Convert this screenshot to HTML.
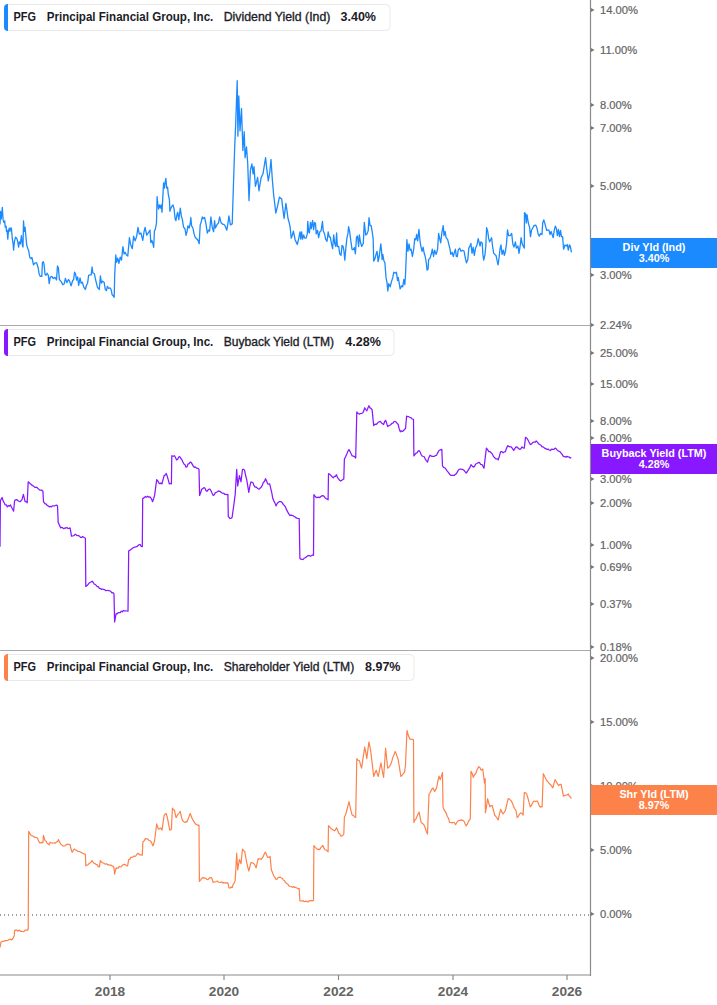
<!DOCTYPE html><html><head><meta charset="utf-8"><style>html,body{margin:0;padding:0;background:#fff;overflow:hidden}svg{display:block}</style></head><body><svg width="717" height="1005" viewBox="0 0 717 1005" font-family="Liberation Sans, sans-serif">
<rect width="717" height="1005" fill="#fff"/>
<line x1="0" y1="325.5" x2="590" y2="325.5" stroke="#aaa" stroke-width="1"/>
<line x1="0" y1="650.5" x2="590" y2="650.5" stroke="#aaa" stroke-width="1"/>
<line x1="0" y1="915" x2="590" y2="915" stroke="#808080" stroke-width="1.6" stroke-dasharray="1,3"/>
<line x1="590.5" y1="0" x2="590.5" y2="976" stroke="#8a8a8a" stroke-width="1.2"/>
<line x1="0" y1="975" x2="591" y2="975" stroke="#8a8a8a" stroke-width="1.2"/>
<line x1="110" y1="975" x2="110" y2="980" stroke="#8a8a8a" stroke-width="1.2"/>
<text x="94.8" y="996" font-size="13" font-weight="bold" fill="#646464" textLength="30.4" lengthAdjust="spacingAndGlyphs">2018</text>
<line x1="224" y1="975" x2="224" y2="980" stroke="#8a8a8a" stroke-width="1.2"/>
<text x="208.8" y="996" font-size="13" font-weight="bold" fill="#646464" textLength="30.4" lengthAdjust="spacingAndGlyphs">2020</text>
<line x1="338.5" y1="975" x2="338.5" y2="980" stroke="#8a8a8a" stroke-width="1.2"/>
<text x="323.3" y="996" font-size="13" font-weight="bold" fill="#646464" textLength="30.4" lengthAdjust="spacingAndGlyphs">2022</text>
<line x1="453" y1="975" x2="453" y2="980" stroke="#8a8a8a" stroke-width="1.2"/>
<text x="437.8" y="996" font-size="13" font-weight="bold" fill="#646464" textLength="30.4" lengthAdjust="spacingAndGlyphs">2024</text>
<line x1="567" y1="975" x2="567" y2="980" stroke="#8a8a8a" stroke-width="1.2"/>
<text x="551.8" y="996" font-size="13" font-weight="bold" fill="#646464" textLength="30.4" lengthAdjust="spacingAndGlyphs">2026</text>
<path d="M0.0,224.6 L0.5,211.5 L1.3,218.8 L2.3,207.3 L3.1,219.9 L4.0,222.5 L4.7,220.9 L5.2,227.2 L6.1,226.2 L6.5,231.4 L7.1,230.3 L7.8,239.2 L8.4,231.4 L9.2,228.2 L9.9,231.4 L11.0,227.7 L11.5,229.3 L12.3,238.7 L13.1,243.9 L13.6,250.2 L14.4,241.8 L15.5,237.1 L16.7,238.2 L17.8,241.8 L18.6,247.1 L19.4,241.8 L20.4,243.9 L21.4,235.6 L22.5,246.0 L23.0,247.1 L23.5,220.9 L24.3,231.4 L25.1,227.2 L25.9,236.6 L26.7,245.0 L27.7,248.1 L28.8,251.3 L29.8,257.5 L30.9,258.6 L31.9,257.5 L33.5,264.9 L35.0,262.8 L36.6,262.8 L38.2,268.0 L39.2,274.3 L40.3,276.4 L41.8,276.4 L42.4,262.8 L43.4,261.7 L44.1,264.9 L45.0,274.3 L46.0,275.3 L47.1,273.2 L48.3,275.3 L49.2,283.7 L50.2,277.4 L51.8,276.4 L53.3,278.5 L54.9,277.4 L56.5,280.0 L57.5,265.9 L58.4,268.0 L59.4,279.5 L61.2,281.6 L62.8,284.7 L64.3,283.7 L65.4,278.5 L66.9,282.6 L68.5,279.5 L69.6,281.1 L71.1,285.8 L72.7,280.5 L73.7,279.5 L74.5,272.2 L75.5,273.8 L76.6,280.1 L77.6,276.9 L78.7,285.3 L80.0,278.0 L81.1,283.2 L82.3,282.2 L83.9,287.4 L85.3,289.5 L86.5,285.3 L87.6,283.2 L88.6,275.4 L89.9,274.9 L91.2,274.9 L92.1,267.0 L92.8,272.8 L94.4,273.8 L95.9,281.1 L97.5,287.4 L99.3,289.5 L100.4,275.9 L101.4,283.2 L102.4,281.1 L104.1,282.2 L105.3,289.5 L106.4,290.5 L107.4,286.4 L108.7,288.5 L110.0,287.9 L111.1,289.5 L112.1,294.7 L113.2,295.8 L114.2,297.3 L114.7,274.9 L115.8,255.0 L116.6,262.3 L117.7,258.1 L118.9,263.3 L120.2,257.1 L121.5,260.2 L122.9,246.6 L124.0,253.9 L125.2,252.4 L126.5,255.0 L127.8,256.0 L129.4,237.7 L130.6,244.5 L132.3,248.7 L133.6,236.2 L135.1,240.9 L136.7,236.2 L138.0,227.3 L139.3,234.1 L140.9,233.0 L142.8,240.3 L144.0,232.0 L145.1,227.3 L146.7,235.1 L148.2,233.0 L150.0,230.1 L150.8,242.6 L151.9,240.5 L152.9,243.7 L153.7,247.3 L154.4,231.1 L155.4,229.0 L156.5,222.8 L157.1,196.6 L157.8,203.9 L158.6,209.2 L159.6,205.0 L160.5,208.1 L161.3,205.0 L162.0,212.3 L162.8,197.7 L163.6,183.0 L164.4,188.2 L165.2,182.0 L165.9,178.3 L166.7,188.2 L167.6,187.2 L168.3,194.5 L169.4,199.7 L169.9,211.3 L170.9,208.1 L172.0,206.0 L173.0,205.0 L174.1,209.2 L175.1,218.6 L175.9,220.7 L177.0,214.4 L177.7,212.3 L178.8,219.6 L180.3,208.1 L181.4,216.5 L182.4,219.6 L183.5,226.9 L185.0,229.0 L186.1,235.3 L187.1,231.1 L187.9,225.9 L189.2,228.0 L190.3,222.8 L190.8,217.5 L191.6,225.9 L192.9,228.0 L193.9,233.2 L195.2,237.4 L196.5,238.5 L198.1,240.5 L199.2,243.7 L200.2,224.9 L201.3,221.7 L202.3,217.0 L203.3,218.6 L204.6,217.5 L206.0,223.8 L207.3,233.2 L208.6,230.1 L209.6,231.1 L210.9,217.0 L212.2,226.9 L213.6,231.7 L214.6,220.7 L215.4,228.0 L216.9,224.9 L218.5,222.8 L219.6,217.0 L221.1,222.8 L222.7,224.3 L223.9,224.4 L225.0,225.7 L226.8,230.2 L227.9,223.6 L228.9,215.9 L230.4,224.8 L232.2,223.9 L233.4,186.3 L234.7,147.0 L235.7,123.7 L237.2,80.7 L237.9,136.2 L238.8,96.0 L240.0,130.9 L241.5,108.5 L242.9,150.5 L244.2,131.7 L245.1,157.7 L246.5,147.0 L247.7,163.1 L249.0,200.6 L250.4,170.2 L251.9,164.0 L253.1,173.8 L254.0,166.6 L255.4,186.3 L256.5,182.3 L257.6,177.4 L259.0,190.8 L260.1,183.7 L261.2,177.4 L263.0,173.8 L264.3,165.7 L265.6,157.7 L266.9,170.2 L268.3,181.0 L269.8,172.0 L271.0,159.5 L272.3,179.2 L273.7,195.3 L274.8,204.1 L275.8,213.2 L277.6,206.0 L279.4,197.1 L280.6,198.2 L281.7,198.9 L282.9,209.2 L284.1,218.5 L285.9,203.3 L286.9,210.2 L288.0,218.5 L289.1,222.2 L290.2,227.5 L291.2,238.2 L292.3,235.3 L293.4,231.1 L295.2,240.0 L296.2,242.1 L297.3,244.5 L298.7,238.6 L300.0,231.8 L300.8,239.2 L301.6,231.8 L302.6,239.2 L303.7,235.0 L304.7,238.1 L306.1,238.1 L307.3,233.9 L307.8,221.4 L308.6,231.8 L309.4,232.9 L310.5,222.4 L311.3,228.7 L312.6,220.3 L313.6,229.7 L314.6,222.4 L315.5,223.5 L316.2,233.9 L317.6,230.3 L318.6,237.6 L319.9,231.8 L321.1,230.8 L322.5,221.4 L323.2,230.8 L324.6,233.9 L325.6,239.2 L327.0,241.3 L328.2,231.8 L329.3,237.1 L330.3,237.1 L331.4,243.3 L332.6,248.6 L333.7,235.0 L334.7,243.3 L335.8,246.5 L336.6,232.9 L337.4,246.5 L338.7,246.5 L339.7,253.8 L341.0,255.4 L342.1,245.4 L343.1,246.5 L343.9,250.7 L344.8,260.1 L345.8,248.6 L346.9,238.1 L347.9,233.9 L348.6,226.6 L349.7,231.8 L350.7,240.2 L352.1,249.6 L353.3,249.6 L354.4,247.5 L355.4,253.8 L356.5,237.1 L357.5,236.0 L358.6,246.5 L359.4,235.0 L360.5,242.3 L361.7,246.5 L363.3,243.3 L364.3,222.4 L365.7,235.0 L366.9,233.9 L368.2,230.8 L369.0,217.7 L370.1,225.6 L371.1,225.6 L372.2,231.8 L373.2,239.2 L373.7,261.1 L375.0,258.6 L376.0,254.4 L377.1,251.3 L378.1,261.7 L379.2,256.5 L380.8,243.9 L381.5,250.2 L382.1,259.6 L382.8,254.4 L383.9,260.7 L384.9,262.8 L386.0,277.4 L387.0,282.6 L387.8,291.0 L388.8,283.7 L390.2,286.8 L391.5,281.6 L392.8,277.4 L393.8,272.2 L395.4,273.2 L396.4,272.2 L397.5,280.5 L398.2,277.4 L399.3,283.7 L400.1,288.9 L401.7,285.8 L402.7,286.8 L403.8,279.5 L404.8,284.7 L405.5,275.3 L406.4,252.3 L406.9,239.7 L407.9,251.3 L409.0,243.9 L410.0,250.2 L411.1,249.2 L412.4,256.5 L413.7,249.2 L414.7,238.7 L415.8,239.7 L416.6,234.5 L417.7,240.8 L418.9,229.3 L420.0,240.8 L421.0,247.1 L422.1,251.3 L423.1,247.1 L424.2,253.3 L425.2,256.5 L426.3,262.8 L427.1,270.1 L428.1,269.0 L428.6,259.6 L429.9,258.6 L431.5,253.3 L432.3,249.2 L433.6,256.5 L434.6,250.2 L436.2,254.4 L437.6,249.2 L438.6,233.5 L439.9,239.7 L440.7,242.9 L441.9,232.4 L443.2,225.6 L444.0,235.6 L445.1,231.4 L446.1,237.7 L447.7,239.7 L448.7,243.9 L450.0,249.2 L450.8,254.4 L452.1,252.3 L453.3,256.5 L454.4,252.3 L455.4,249.2 L456.3,256.5 L457.3,256.5 L458.2,250.2 L459.6,248.1 L461.0,251.3 L462.6,250.2 L464.1,251.3 L465.2,257.5 L466.5,262.8 L467.8,259.6 L468.8,248.1 L469.9,246.0 L470.9,243.4 L472.0,253.3 L473.2,247.1 L474.3,255.4 L475.6,248.1 L477.0,245.0 L478.2,238.7 L479.3,242.9 L480.1,246.0 L480.9,241.8 L482.2,242.9 L482.9,254.4 L483.7,260.1 L485.0,254.4 L485.8,246.0 L486.6,227.7 L487.7,231.4 L488.7,238.7 L489.7,241.8 L491.6,237.7 L492.4,245.0 L493.7,253.3 L494.8,254.4 L496.0,255.4 L497.1,260.7 L498.1,264.9 L499.2,256.5 L500.0,249.2 L501.0,245.0 L502.1,254.4 L503.3,250.2 L504.4,255.4 L505.4,251.3 L506.5,243.9 L507.5,229.8 L508.6,235.6 L510.1,235.6 L511.7,233.5 L512.8,243.9 L514.0,247.1 L515.4,241.8 L516.4,248.1 L518.0,246.0 L519.0,253.3 L520.3,245.0 L521.1,237.7 L522.2,243.9 L523.2,246.0 L524.3,248.1 L524.5,212.6 L525.5,213.6 L526.3,223.0 L527.0,214.6 L527.8,219.9 L528.6,224.1 L529.6,227.2 L530.5,236.6 L531.5,230.3 L532.6,228.2 L534.0,225.6 L535.7,225.1 L537.0,228.2 L538.0,233.5 L539.3,236.1 L540.6,233.5 L542.0,234.5 L542.7,223.0 L543.8,219.9 L545.3,225.1 L546.6,230.3 L547.9,229.8 L549.0,230.3 L550.0,234.5 L551.1,231.4 L552.1,234.5 L553.2,237.7 L554.2,230.3 L555.3,226.2 L556.3,228.2 L557.4,235.6 L558.4,229.3 L559.5,236.6 L560.5,230.3 L561.5,236.6 L562.6,236.6 L563.6,249.2 L565.0,245.0 L566.5,246.0 L567.3,244.5 L568.3,250.2 L569.4,245.0 L570.2,246.0 L571.5,252.3" fill="none" stroke="#1b8aff" stroke-width="1.3" stroke-linejoin="round"/>
<path d="M0.0,546.7 L0.4,500.7 L2.1,497.5 L3.1,500.9 L4.2,502.8 L5.2,504.9 L6.3,504.8 L7.3,506.9 L8.4,505.6 L9.4,506.1 L10.5,504.9 L11.5,507.3 L12.6,509.3 L13.6,511.1 L14.6,500.7 L15.7,499.8 L16.7,499.6 L17.8,500.5 L18.8,501.2 L19.9,501.7 L20.9,500.8 L22.0,499.6 L23.4,494.4 L25.1,501.7 L26.2,501.7 L27.2,502.8 L28.2,481.8 L29.3,482.8 L30.3,483.9 L31.4,484.5 L32.4,485.7 L33.5,486.0 L34.5,487.2 L35.6,487.4 L36.6,487.1 L37.7,488.2 L38.7,489.1 L39.7,490.2 L40.8,490.2 L41.8,490.2 L42.9,491.3 L43.5,501.7 L45.0,503.8 L46.0,503.8 L47.1,505.3 L48.1,505.9 L49.2,506.9 L50.2,506.4 L51.3,506.9 L52.3,505.9 L53.3,505.9 L54.4,506.0 L55.4,505.5 L56.5,505.1 L57.5,505.9 L58.2,522.6 L59.4,525.0 L60.7,527.9 L61.7,527.3 L62.8,527.9 L63.8,528.7 L64.9,527.9 L65.9,528.1 L66.9,527.4 L68.0,528.5 L69.0,528.3 L70.1,527.9 L71.5,536.2 L72.8,535.9 L74.1,535.5 L75.3,534.1 L76.4,535.1 L77.4,535.7 L78.5,535.5 L79.5,536.2 L80.5,537.3 L81.6,537.5 L82.6,536.5 L83.7,537.3 L85.4,538.3 L85.8,586.4 L86.8,585.8 L87.9,584.7 L88.9,583.3 L90.0,582.5 L91.0,582.0 L92.1,581.2 L93.1,582.2 L94.1,584.0 L95.2,584.4 L96.2,585.4 L97.3,586.7 L98.3,586.7 L99.4,588.4 L100.4,588.5 L101.5,589.4 L102.5,589.0 L103.6,589.4 L104.6,589.6 L105.6,590.5 L106.7,590.5 L107.7,590.3 L108.8,590.6 L109.8,590.8 L110.9,591.6 L111.9,592.8 L113.0,592.6 L114.0,593.8 L114.6,622.0 L116.1,613.6 L117.2,613.9 L118.2,612.6 L119.2,612.6 L120.3,612.7 L121.3,611.2 L122.4,611.8 L123.4,610.5 L124.6,611.0 L125.7,610.8 L126.9,611.0 L128.0,611.1 L128.7,550.9 L129.7,550.4 L130.8,549.6 L131.8,548.8 L132.8,548.0 L133.9,547.3 L134.9,547.2 L136.0,546.7 L137.0,546.7 L138.1,545.5 L139.1,544.6 L140.2,544.6 L141.2,546.5 L142.3,546.7 L142.7,498.6 L144.0,497.9 L145.4,496.5 L146.5,497.2 L147.7,496.2 L148.8,497.2 L150.0,496.9 L151.3,498.6 L152.6,501.7 L153.6,498.8 L154.6,495.4 L155.7,487.2 L156.7,479.7 L157.8,480.9 L158.8,482.9 L159.9,483.8 L160.9,483.0 L162.0,483.9 L163.0,479.8 L164.1,475.6 L165.1,475.1 L166.2,473.5 L167.2,476.2 L168.2,479.7 L169.3,483.9 L170.3,483.5 L171.4,483.9 L171.8,455.7 L173.2,456.3 L174.5,455.7 L175.6,457.7 L176.6,459.9 L177.7,459.2 L178.7,457.0 L179.7,456.7 L180.8,458.3 L181.8,459.7 L182.9,462.0 L183.9,464.0 L185.0,464.8 L186.0,467.2 L187.1,466.6 L188.1,463.8 L189.2,463.6 L190.2,462.0 L191.3,462.6 L192.3,464.4 L193.3,466.2 L194.4,467.3 L195.4,467.0 L196.5,468.2 L197.7,468.3 L199.0,469.3 L199.6,495.4 L200.7,492.6 L201.7,489.2 L202.8,488.6 L203.8,487.7 L204.9,488.1 L205.9,490.5 L206.9,491.3 L208.0,490.0 L209.0,489.1 L210.1,489.2 L211.1,491.0 L212.2,493.5 L213.2,495.4 L214.3,494.8 L215.3,492.7 L216.4,492.3 L217.4,491.7 L218.5,490.9 L219.5,491.3 L220.5,491.7 L221.6,492.7 L222.6,493.2 L223.7,493.3 L224.7,494.3 L225.8,494.3 L226.8,494.7 L227.9,494.4 L228.3,516.4 L230.0,518.5 L231.0,518.3 L232.1,517.4 L233.1,510.0 L234.1,502.8 L235.2,494.4 L236.7,469.3 L237.7,486.0 L239.4,475.6 L241.0,481.8 L242.5,469.3 L243.6,469.4 L244.6,470.3 L245.6,475.3 L246.7,479.7 L247.7,485.7 L248.8,492.3 L249.8,486.4 L250.9,481.8 L251.9,482.3 L253.0,482.9 L254.0,485.6 L255.1,487.1 L256.1,487.0 L257.2,488.1 L258.2,488.8 L259.2,489.2 L260.3,487.9 L261.3,487.1 L262.4,485.0 L263.4,482.3 L264.5,481.5 L265.5,478.7 L266.6,480.9 L267.6,483.9 L268.7,484.1 L269.7,483.9 L270.8,488.7 L271.8,492.9 L272.8,498.6 L273.9,501.1 L274.9,502.9 L276.0,505.9 L277.0,503.8 L278.1,502.4 L279.1,501.7 L280.2,501.5 L281.2,501.8 L282.3,502.8 L283.3,504.4 L284.4,505.6 L285.4,506.9 L286.6,509.9 L287.7,511.9 L288.9,514.2 L290.0,515.5 L291.3,515.1 L292.6,515.5 L293.6,516.1 L294.6,516.5 L295.7,517.6 L296.9,518.1 L298.1,518.5 L299.2,518.7 L299.9,558.4 L300.9,559.2 L302.0,559.4 L303.0,559.5 L304.1,558.3 L305.1,557.8 L306.2,557.1 L307.2,556.3 L308.2,555.5 L309.3,555.6 L310.3,556.3 L311.4,555.8 L312.4,555.0 L313.5,555.3 L313.9,494.6 L315.3,496.5 L316.6,497.7 L317.7,497.3 L318.7,497.1 L319.7,497.7 L320.8,496.5 L321.8,495.9 L322.9,495.6 L323.9,496.2 L325.0,497.7 L326.0,498.5 L327.1,499.1 L328.1,499.8 L328.5,473.7 L329.9,474.4 L331.3,475.8 L332.3,477.0 L333.3,477.9 L334.4,476.4 L335.4,476.4 L336.5,474.7 L337.5,477.6 L338.6,478.9 L339.6,480.3 L340.7,481.0 L341.7,480.2 L342.8,479.6 L343.8,478.9 L344.4,459.0 L345.7,456.6 L346.9,453.8 L348.0,451.0 L349.0,449.6 L350.1,451.6 L351.1,453.8 L352.2,455.9 L353.4,456.1 L354.5,456.6 L355.7,458.0 L356.8,412.0 L358.1,413.5 L359.5,414.1 L360.5,413.5 L361.6,413.4 L362.6,413.0 L363.7,411.1 L364.7,407.8 L365.8,409.5 L366.8,410.9 L367.9,408.0 L368.9,405.7 L370.0,407.9 L371.0,408.3 L372.1,409.9 L373.7,425.6 L374.9,424.1 L376.1,424.5 L377.3,423.5 L378.3,422.1 L379.4,421.8 L380.4,421.4 L381.5,423.0 L382.5,423.7 L383.6,424.5 L384.6,421.7 L385.6,420.3 L386.7,423.4 L387.7,426.6 L388.8,425.8 L389.8,425.2 L390.9,424.5 L391.9,423.3 L393.0,423.1 L394.0,421.5 L395.1,421.4 L396.1,422.1 L397.2,423.3 L398.2,424.5 L399.2,428.9 L400.3,431.8 L401.3,430.8 L402.4,431.6 L403.4,430.8 L404.5,429.3 L405.5,428.7 L406.6,416.2 L407.6,416.6 L408.7,416.7 L409.7,417.2 L411.0,417.8 L412.2,419.0 L413.5,419.3 L413.9,455.9 L414.9,454.7 L416.0,453.2 L417.0,452.8 L418.1,451.1 L419.1,450.7 L420.2,452.1 L421.2,454.9 L422.3,456.1 L423.3,456.5 L424.4,456.9 L425.4,459.4 L426.4,460.7 L427.5,462.2 L428.7,457.9 L430.0,455.2 L431.0,455.9 L432.0,456.4 L433.0,456.4 L434.2,456.4 L435.4,455.6 L436.6,455.2 L437.8,452.6 L439.0,450.5 L440.4,449.8 L441.8,449.3 L442.5,465.9 L443.7,467.5 L444.9,467.9 L446.1,469.4 L447.3,471.1 L448.5,472.6 L449.6,474.2 L450.8,475.3 L452.0,475.4 L453.2,475.4 L454.4,475.3 L455.6,474.3 L456.8,473.0 L457.9,470.9 L459.1,469.4 L460.3,469.0 L461.5,469.4 L462.7,469.4 L463.9,470.2 L465.0,471.7 L466.2,473.0 L467.4,471.5 L468.6,469.4 L469.8,467.7 L471.0,464.7 L472.2,466.0 L473.3,467.1 L474.5,466.4 L475.7,464.0 L476.9,463.5 L478.1,462.7 L479.3,462.3 L480.7,464.3 L482.1,464.7 L484.0,468.2 L485.2,457.6 L486.4,448.1 L487.6,449.7 L488.8,451.6 L489.9,451.5 L491.1,452.8 L492.3,453.9 L493.5,456.4 L494.7,457.8 L495.9,458.8 L497.1,458.8 L498.2,459.9 L499.4,456.0 L500.6,451.6 L501.8,451.6 L503.0,452.8 L504.2,451.9 L505.4,451.6 L506.5,448.3 L507.7,445.7 L508.9,446.4 L510.1,446.8 L511.3,446.9 L512.5,448.6 L513.7,450.5 L514.8,448.7 L516.0,446.9 L517.2,447.1 L518.4,448.5 L519.6,449.3 L520.8,448.8 L522.0,446.9 L523.1,447.9 L524.3,448.1 L525.5,437.4 L526.7,438.0 L527.9,439.8 L529.1,442.2 L530.3,444.5 L531.4,444.1 L532.6,442.6 L533.8,442.2 L535.0,442.2 L536.2,441.0 L537.4,442.1 L538.5,443.7 L539.7,444.5 L540.9,445.2 L542.1,446.9 L543.3,446.9 L544.5,448.1 L545.7,448.6 L546.8,449.3 L548.0,449.1 L549.2,450.0 L550.4,450.5 L551.6,449.1 L552.8,449.4 L554.0,449.3 L555.1,448.1 L556.3,448.8 L557.5,450.5 L558.7,451.1 L559.9,451.6 L561.1,453.2 L562.3,454.7 L563.4,456.4 L564.6,456.7 L565.8,457.1 L567.0,456.4 L568.1,457.0 L569.1,456.9 L570.2,458.0 L571.3,457.6" fill="none" stroke="#8818ff" stroke-width="1.25" stroke-linejoin="round"/>
<path d="M0.0,947.4 L1.0,942.1 L2.1,941.4 L3.1,941.5 L4.2,941.1 L5.2,940.6 L6.3,940.7 L7.3,940.5 L8.4,940.0 L9.4,939.3 L10.5,939.3 L11.5,940.0 L12.9,938.5 L14.2,935.9 L14.6,930.6 L15.7,930.1 L16.7,930.0 L17.8,931.1 L18.8,930.2 L19.9,930.5 L20.9,931.5 L22.0,931.3 L23.0,931.7 L24.1,931.4 L25.1,930.1 L26.2,930.2 L27.2,930.1 L28.2,929.6 L28.7,831.3 L30.3,834.4 L31.4,835.7 L32.4,835.8 L33.5,836.5 L34.5,837.2 L35.6,837.5 L36.6,837.5 L37.7,838.6 L38.7,841.4 L39.7,842.8 L40.8,842.9 L41.8,842.4 L42.9,842.8 L43.5,835.4 L45.0,840.7 L46.0,841.0 L47.1,843.3 L48.1,843.8 L49.2,844.9 L50.2,842.3 L51.3,842.8 L52.3,843.2 L53.3,843.0 L54.4,842.8 L55.4,843.1 L56.5,841.9 L57.5,841.7 L58.6,839.6 L59.6,842.2 L60.7,843.8 L61.7,844.8 L62.8,845.9 L63.8,846.2 L64.9,845.8 L65.9,844.9 L66.9,844.2 L68.0,844.3 L69.0,844.4 L70.1,844.9 L71.1,849.3 L72.2,852.2 L73.2,850.5 L74.3,849.0 L75.3,849.9 L76.4,850.1 L77.4,851.1 L78.5,851.5 L79.5,851.6 L80.5,852.2 L81.6,852.5 L82.6,853.2 L84.0,853.9 L85.4,854.3 L85.8,865.8 L86.8,865.2 L87.9,865.0 L88.9,863.7 L90.0,862.9 L91.0,862.3 L92.1,860.5 L93.1,862.2 L94.1,863.4 L95.2,863.7 L96.2,864.7 L97.3,864.7 L98.3,866.6 L99.4,866.8 L100.4,860.5 L101.5,862.1 L102.5,862.8 L103.6,863.0 L104.6,863.7 L105.6,864.3 L106.7,863.7 L107.7,865.0 L108.8,864.7 L109.8,865.2 L110.9,865.1 L111.9,865.8 L113.0,866.1 L114.0,867.9 L114.6,874.1 L116.1,867.9 L117.2,868.2 L118.2,868.1 L119.2,866.4 L120.3,866.8 L121.3,866.6 L122.4,865.3 L123.4,864.7 L124.5,864.4 L125.5,864.9 L126.6,865.9 L127.6,865.8 L128.7,859.5 L129.7,859.4 L130.8,857.4 L131.8,857.4 L132.8,857.2 L133.9,856.0 L134.9,856.4 L136.0,855.7 L137.0,854.0 L138.1,853.2 L139.1,854.4 L140.2,855.0 L141.2,854.8 L142.3,855.3 L142.9,841.7 L144.1,840.9 L145.4,838.6 L146.5,838.8 L147.7,838.9 L148.8,840.3 L150.0,840.7 L151.5,842.5 L153.0,845.9 L154.6,840.7 L155.7,831.8 L156.7,823.9 L158.4,829.2 L159.7,828.5 L160.9,828.1 L162.0,830.2 L163.0,823.1 L164.1,815.6 L165.1,814.0 L166.2,813.5 L167.2,816.9 L168.2,821.8 L169.7,830.2 L171.4,829.2 L172.4,808.2 L173.5,809.9 L174.5,810.3 L176.0,817.7 L177.3,815.3 L178.7,813.5 L180.2,811.4 L181.8,818.7 L182.9,821.0 L183.9,821.8 L185.0,822.5 L186.0,821.6 L187.1,821.8 L188.1,819.0 L189.2,816.3 L190.2,813.5 L191.3,816.3 L192.3,818.7 L193.3,820.6 L194.4,822.3 L195.4,823.9 L196.6,824.5 L197.8,825.3 L199.0,825.0 L199.4,881.5 L200.5,880.1 L201.6,878.6 L202.8,877.3 L203.8,878.2 L204.9,877.9 L205.9,878.5 L206.9,879.4 L208.0,879.6 L209.0,878.4 L210.1,877.9 L211.1,877.3 L212.2,879.1 L213.2,882.5 L214.3,882.0 L215.3,881.9 L216.4,881.5 L217.4,881.0 L218.5,882.2 L219.5,882.5 L220.5,882.5 L221.6,881.9 L222.6,882.8 L223.7,882.6 L224.7,883.0 L225.8,882.6 L226.8,883.2 L227.9,882.9 L228.9,887.7 L230.0,888.1 L231.0,887.0 L232.1,887.7 L233.1,884.6 L234.1,883.1 L235.2,880.4 L236.7,853.2 L237.7,870.0 L239.4,859.5 L241.0,863.7 L242.5,849.0 L243.6,850.8 L244.6,851.1 L245.6,856.5 L246.7,862.6 L247.7,866.8 L248.8,871.0 L249.8,867.0 L250.9,862.6 L251.9,862.7 L253.0,863.1 L254.0,863.7 L255.1,865.5 L256.1,867.9 L257.2,862.9 L258.2,858.5 L259.2,859.0 L260.3,858.8 L261.3,859.5 L262.4,857.5 L263.4,856.3 L264.5,853.2 L265.5,852.2 L266.6,854.9 L267.6,857.4 L268.9,857.3 L270.1,856.4 L271.4,870.0 L272.6,872.8 L273.9,876.2 L274.9,877.4 L276.0,879.4 L277.0,879.2 L278.1,877.6 L279.1,877.3 L280.2,877.1 L281.2,877.9 L282.3,878.3 L283.3,880.0 L284.4,880.5 L285.4,882.5 L286.6,883.2 L287.7,884.1 L288.9,885.9 L290.0,886.3 L291.2,886.5 L292.3,887.4 L293.5,886.6 L294.6,887.4 L295.8,887.4 L296.9,888.1 L298.1,888.8 L299.2,888.4 L299.9,901.0 L300.9,901.0 L302.0,900.8 L303.0,900.7 L304.1,901.5 L305.1,901.6 L306.2,901.0 L307.2,901.8 L308.2,901.8 L309.3,900.6 L310.3,901.0 L311.4,900.4 L312.4,901.0 L313.5,900.3 L313.9,845.5 L315.3,847.3 L316.6,848.7 L317.7,849.5 L318.7,849.1 L319.7,849.7 L320.8,847.7 L321.8,846.6 L322.9,845.5 L323.9,848.1 L325.0,849.7 L326.0,850.0 L327.1,850.9 L328.1,851.8 L328.5,825.6 L329.9,827.1 L331.3,828.8 L332.3,829.4 L333.3,830.0 L334.4,830.9 L335.4,830.0 L336.5,827.7 L337.5,829.8 L338.6,833.0 L339.6,833.7 L340.7,836.1 L341.7,836.1 L342.8,835.3 L343.8,834.0 L344.4,817.3 L345.7,814.4 L346.9,810.0 L348.0,805.7 L349.0,801.6 L350.1,806.8 L351.1,811.3 L352.2,815.2 L353.4,815.4 L354.5,817.0 L355.7,817.3 L356.8,758.7 L358.1,760.3 L359.5,760.8 L360.5,764.7 L361.6,768.1 L362.6,761.2 L363.7,753.8 L364.7,747.2 L365.8,752.7 L366.8,758.7 L367.9,749.9 L368.9,742.0 L370.0,747.0 L371.0,753.5 L372.4,765.1 L373.7,776.5 L375.0,773.0 L376.2,770.2 L377.3,773.8 L378.3,776.5 L379.7,769.0 L381.0,762.9 L382.3,770.9 L383.6,777.5 L384.6,763.2 L385.6,748.2 L386.7,758.9 L387.7,768.1 L388.8,767.4 L389.8,766.0 L390.9,763.9 L391.9,760.9 L393.0,756.9 L394.0,754.9 L395.1,751.4 L396.1,753.6 L397.2,756.6 L398.2,759.7 L399.6,768.4 L400.9,776.5 L402.1,775.1 L403.3,773.6 L404.5,772.3 L405.5,765.0 L407.0,730.5 L408.3,735.3 L409.7,738.8 L411.0,739.4 L412.2,739.3 L413.5,739.9 L413.9,822.5 L414.9,820.0 L416.0,818.9 L417.0,816.2 L418.1,814.1 L419.1,812.1 L420.2,817.7 L421.2,822.5 L422.3,823.3 L423.3,824.1 L424.4,825.6 L425.4,828.5 L426.4,831.7 L427.5,834.0 L429.0,794.3 L430.0,792.7 L431.9,789.1 L433.0,787.9 L434.7,791.5 L436.6,787.9 L437.8,781.5 L439.0,776.1 L440.2,779.6 L441.3,776.5 L442.5,772.5 L443.0,806.9 L444.0,809.6 L445.1,811.3 L446.1,812.8 L447.3,816.5 L448.5,818.4 L449.6,822.3 L450.8,822.5 L452.0,822.9 L453.2,822.3 L454.4,822.8 L455.6,824.7 L456.8,822.5 L457.9,821.1 L459.1,820.4 L460.3,820.4 L461.5,819.9 L462.7,820.4 L463.9,821.1 L465.0,823.5 L466.2,825.9 L467.4,823.9 L468.6,821.1 L470.3,818.8 L471.0,771.3 L472.2,773.5 L473.3,777.3 L474.5,774.8 L475.7,773.7 L476.7,770.7 L477.8,768.4 L478.8,766.6 L480.0,767.7 L481.2,770.2 L482.8,769.0 L484.5,783.2 L485.2,778.5 L485.4,812.8 L486.5,806.5 L487.6,798.6 L488.8,803.3 L489.9,806.9 L491.1,805.6 L492.3,805.7 L493.5,810.5 L494.7,815.2 L495.9,816.5 L497.1,818.1 L498.2,819.9 L499.4,814.4 L500.6,809.3 L501.8,811.9 L503.0,814.0 L504.2,812.4 L505.4,810.5 L506.8,804.3 L508.2,798.6 L509.2,798.9 L510.3,799.9 L511.3,801.0 L512.5,803.3 L513.7,806.9 L514.8,808.8 L516.0,810.5 L517.2,817.6 L518.4,816.3 L519.6,814.2 L520.8,812.8 L522.0,813.3 L523.1,815.2 L524.3,792.7 L525.5,792.8 L526.7,793.9 L527.9,798.0 L529.1,802.7 L530.3,806.9 L531.4,805.4 L532.6,802.8 L533.8,801.0 L535.0,801.5 L536.2,801.2 L537.4,801.0 L538.5,803.8 L539.7,806.9 L540.9,806.7 L542.1,806.9 L543.3,773.7 L544.5,776.1 L545.7,778.8 L546.8,780.8 L548.0,781.9 L549.2,783.5 L550.4,784.4 L551.6,786.1 L552.8,787.9 L554.0,783.4 L555.1,779.6 L556.3,781.7 L557.5,783.9 L558.7,785.6 L559.9,784.3 L561.1,784.4 L562.3,790.2 L563.4,796.2 L564.6,795.5 L565.8,795.0 L567.0,795.1 L568.2,793.9 L569.2,796.1 L570.2,796.8 L571.3,798.6" fill="none" stroke="#fd824a" stroke-width="1.2" stroke-linejoin="round"/>
<path d="M591,8 L594.5,10 L591,12 Z" fill="#777"/><text x="600" y="14" font-size="11.2" fill="#646464" stroke="#646464" stroke-width="0.2">14.00%</text><path d="M591,48 L594.5,50 L591,52 Z" fill="#777"/><text x="600" y="54" font-size="11.2" fill="#646464" stroke="#646464" stroke-width="0.2">11.00%</text><path d="M591,103 L594.5,105 L591,107 Z" fill="#777"/><text x="600" y="109" font-size="11.2" fill="#646464" stroke="#646464" stroke-width="0.2">8.00%</text><path d="M591,126 L594.5,128 L591,130 Z" fill="#777"/><text x="600" y="132" font-size="11.2" fill="#646464" stroke="#646464" stroke-width="0.2">7.00%</text><path d="M591,184 L594.5,186 L591,188 Z" fill="#777"/><text x="600" y="190" font-size="11.2" fill="#646464" stroke="#646464" stroke-width="0.2">5.00%</text><path d="M591,273 L594.5,275 L591,277 Z" fill="#777"/><text x="600" y="279" font-size="11.2" fill="#646464" stroke="#646464" stroke-width="0.2">3.00%</text><path d="M591,323 L594.5,325 L591,327 Z" fill="#777"/><text x="600" y="329" font-size="11.2" fill="#646464" stroke="#646464" stroke-width="0.2">2.24%</text>
<path d="M591,351 L594.5,353 L591,355 Z" fill="#777"/><text x="600" y="357" font-size="11.2" fill="#646464" stroke="#646464" stroke-width="0.2">25.00%</text><path d="M591,382 L594.5,384 L591,386 Z" fill="#777"/><text x="600" y="388" font-size="11.2" fill="#646464" stroke="#646464" stroke-width="0.2">15.00%</text><path d="M591,419 L594.5,421 L591,423 Z" fill="#777"/><text x="600" y="425" font-size="11.2" fill="#646464" stroke="#646464" stroke-width="0.2">8.00%</text><path d="M591,436 L594.5,438 L591,440 Z" fill="#777"/><text x="600" y="442" font-size="11.2" fill="#646464" stroke="#646464" stroke-width="0.2">6.00%</text><path d="M591,477 L594.5,479 L591,481 Z" fill="#777"/><text x="600" y="483" font-size="11.2" fill="#646464" stroke="#646464" stroke-width="0.2">3.00%</text><path d="M591,501 L594.5,503 L591,505 Z" fill="#777"/><text x="600" y="507" font-size="11.2" fill="#646464" stroke="#646464" stroke-width="0.2">2.00%</text><path d="M591,543 L594.5,545 L591,547 Z" fill="#777"/><text x="600" y="549" font-size="11.2" fill="#646464" stroke="#646464" stroke-width="0.2">1.00%</text><path d="M591,565 L594.5,567 L591,569 Z" fill="#777"/><text x="600" y="571" font-size="11.2" fill="#646464" stroke="#646464" stroke-width="0.2">0.69%</text><path d="M591,602 L594.5,604 L591,606 Z" fill="#777"/><text x="600" y="608" font-size="11.2" fill="#646464" stroke="#646464" stroke-width="0.2">0.37%</text><path d="M591,645 L594.5,647 L591,649 Z" fill="#777"/><text x="600" y="651" font-size="11.2" fill="#646464" stroke="#646464" stroke-width="0.2">0.18%</text><path d="M591,656 L594.5,658 L591,660 Z" fill="#777"/><text x="600" y="662" font-size="11.2" fill="#646464" stroke="#646464" stroke-width="0.2">20.00%</text>
<path d="M591,720 L594.5,722 L591,724 Z" fill="#777"/><text x="600" y="726" font-size="11.2" fill="#646464" stroke="#646464" stroke-width="0.2">15.00%</text><path d="M591,784 L594.5,786 L591,788 Z" fill="#777"/><text x="600" y="790" font-size="11.2" fill="#646464" stroke="#646464" stroke-width="0.2">10.00%</text><path d="M591,848 L594.5,850 L591,852 Z" fill="#777"/><text x="600" y="854" font-size="11.2" fill="#646464" stroke="#646464" stroke-width="0.2">5.00%</text><path d="M591,912 L594.5,914 L591,916 Z" fill="#777"/><text x="600" y="918" font-size="11.2" fill="#646464" stroke="#646464" stroke-width="0.2">0.00%</text>
<rect x="591" y="238" width="126" height="30" fill="#1b8aff"/><text x="654" y="250.5" font-size="10.8" font-weight="bold" fill="#fff" text-anchor="middle">Div Yld (Ind)</text><text x="654" y="261.5" font-size="10.8" font-weight="bold" fill="#fff" text-anchor="middle">3.40%</text>
<rect x="591" y="444" width="126" height="30" fill="#8818ff"/><text x="654" y="456.5" font-size="10.8" font-weight="bold" fill="#fff" text-anchor="middle">Buyback Yield (LTM)</text><text x="654" y="467.5" font-size="10.8" font-weight="bold" fill="#fff" text-anchor="middle">4.28%</text>
<rect x="591" y="785" width="126" height="30" fill="#fd824a"/><text x="654" y="797.5" font-size="10.8" font-weight="bold" fill="#fff" text-anchor="middle">Shr Yld (LTM)</text><text x="654" y="808.5" font-size="10.8" font-weight="bold" fill="#fff" text-anchor="middle">8.97%</text>
<rect x="4.5" y="4.5" width="385.5" height="26" rx="4" fill="#fff" stroke="#e9e9e9"/><path d="M8,4.0 v27 a4,4 0 0 1 -4,-4 v-19 a4,4 0 0 1 4,-4 Z" fill="#1b8aff"/><text y="20.5" font-size="12" fill="#1c1c28"><tspan x="13.5" font-weight="bold" textLength="22.5" lengthAdjust="spacingAndGlyphs">PFG</tspan><tspan x="46.7" font-weight="bold" textLength="166.6" lengthAdjust="spacingAndGlyphs">Principal Financial Group, Inc.</tspan><tspan x="223.7" fill="#1e1e2a" stroke="#1e1e2a" stroke-width="0.35" textLength="106.7" lengthAdjust="spacingAndGlyphs">Dividend Yield (Ind)</tspan><tspan x="340.5" font-weight="bold" textLength="35.5" lengthAdjust="spacingAndGlyphs">3.40%</tspan></text>
<rect x="4.5" y="329.5" width="389.5" height="26" rx="4" fill="#fff" stroke="#e9e9e9"/><path d="M8,329.0 v27 a4,4 0 0 1 -4,-4 v-19 a4,4 0 0 1 4,-4 Z" fill="#8818ff"/><text y="345.5" font-size="12" fill="#1c1c28"><tspan x="13.5" font-weight="bold" textLength="22.5" lengthAdjust="spacingAndGlyphs">PFG</tspan><tspan x="46.7" font-weight="bold" textLength="166.6" lengthAdjust="spacingAndGlyphs">Principal Financial Group, Inc.</tspan><tspan x="223.7" fill="#1e1e2a" stroke="#1e1e2a" stroke-width="0.35" textLength="110.4" lengthAdjust="spacingAndGlyphs">Buyback Yield (LTM)</tspan><tspan x="345.3" font-weight="bold" textLength="35.5" lengthAdjust="spacingAndGlyphs">4.28%</tspan></text>
<rect x="4.5" y="654.5" width="409.5" height="26" rx="4" fill="#fff" stroke="#e9e9e9"/><path d="M8,654.0 v27 a4,4 0 0 1 -4,-4 v-19 a4,4 0 0 1 4,-4 Z" fill="#fd824a"/><text y="670.5" font-size="12" fill="#1c1c28"><tspan x="13.5" font-weight="bold" textLength="22.5" lengthAdjust="spacingAndGlyphs">PFG</tspan><tspan x="46.7" font-weight="bold" textLength="166.6" lengthAdjust="spacingAndGlyphs">Principal Financial Group, Inc.</tspan><tspan x="223.7" fill="#1e1e2a" stroke="#1e1e2a" stroke-width="0.35" textLength="130.5" lengthAdjust="spacingAndGlyphs">Shareholder Yield (LTM)</tspan><tspan x="365" font-weight="bold" textLength="35.5" lengthAdjust="spacingAndGlyphs">8.97%</tspan></text>
</svg></body></html>
